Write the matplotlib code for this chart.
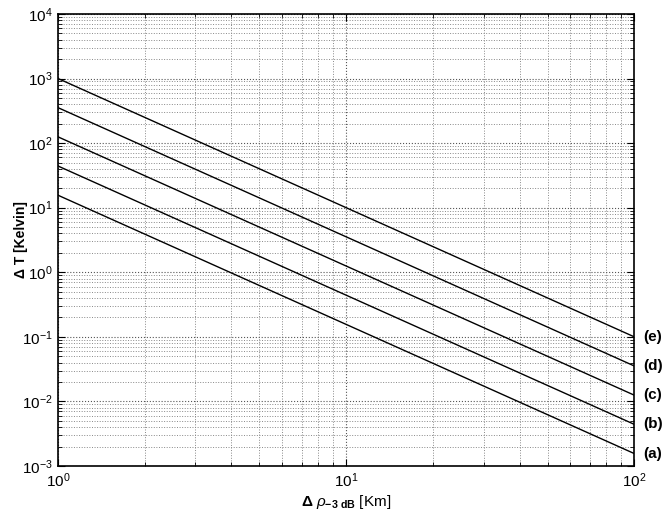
import numpy as np
import matplotlib
matplotlib.use("Agg")
import matplotlib.pyplot as plt
from matplotlib import ticker

plt.rcParams['font.family'] = ['Liberation Sans', 'DejaVu Sans']
plt.rcParams['mathtext.fontset'] = 'custom'
plt.rcParams['mathtext.rm'] = 'Liberation Sans'
plt.rcParams['mathtext.it'] = 'Liberation Sans:italic'
plt.rcParams['mathtext.bf'] = 'Liberation Sans:bold'
plt.rcParams['axes.unicode_minus'] = False

# Data: Delta T at x=1 and x=100 for each curve (slope -2 in log-log)
labels = ['(a)', '(b)', '(c)', '(d)', '(e)']
x_ends = [1.0, 100.0]
start_vals = [15.6, 44.2, 125.0, 354.0, 1000.0]
end_vals = [0.00156, 0.00442, 0.0125, 0.0354, 0.1]
y_major = [1e-3, 1e-2, 1e-1, 1e0, 1e1, 1e2, 1e3, 1e4]
x_major = [1e0, 1e1, 1e2]

fig = plt.figure(figsize=(6.71, 5.15), dpi=100)
ax = fig.add_axes([0.0864, 0.095, 0.859, 0.878])

for s, e in zip(start_vals, end_vals):
    ax.plot(x_ends, [s, e], color='black', lw=1.0)

ax.set_xscale('log')
ax.set_yscale('log')
ax.set_xlim(1, 100)
ax.set_ylim(1e-3, 1e4)

y_minor = [m * b for b in y_major[:-1] for m in range(2, 10)]
x_minor = [m * b for b in x_major[:-1] for m in range(2, 10)]
ax.yaxis.set_major_locator(ticker.FixedLocator(y_major))
ax.yaxis.set_minor_locator(ticker.FixedLocator(y_minor))
ax.xaxis.set_major_locator(ticker.FixedLocator(x_major))
ax.xaxis.set_minor_locator(ticker.FixedLocator(x_minor))
ax.xaxis.set_major_formatter(ticker.LogFormatterSciNotation())
ax.yaxis.set_major_formatter(ticker.LogFormatterSciNotation())
ax.xaxis.set_minor_formatter(ticker.NullFormatter())
ax.yaxis.set_minor_formatter(ticker.NullFormatter())

ax.grid(True, which='major', ls=':', color='#555555', lw=0.8)
ax.grid(True, which='minor', ls=':', color='#888888', lw=0.7)
ax.tick_params(which='both', direction='in', top=True, right=True, labelsize=11)
ax.tick_params(which='major', length=5, pad=4)
ax.tick_params(which='minor', length=3)
for sp in ax.spines.values():
    sp.set_linewidth(1.2)

for lab, e in zip(labels, end_vals):
    ax.text(1.015, e, lab, transform=ax.get_yaxis_transform(), fontsize=11,
            fontweight='bold', va='center', ha='left')

ax.set_ylabel('Δ T [Kelvin]', fontweight='bold', fontsize=10)
ax.yaxis.set_label_coords(-0.052, 0.5)
ax.set_xlabel(r'$\mathbf{\Delta}$ $\mathit{\rho}_{\mathbf{-3\ dB}}$ [Km]', fontsize=11, labelpad=2)

fig.savefig('out.png', dpi=100)
